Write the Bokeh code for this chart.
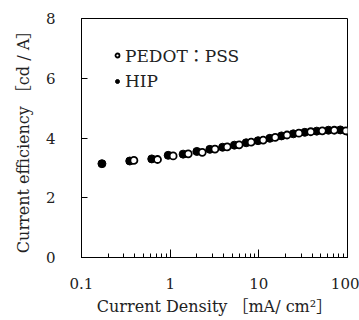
from bokeh.plotting import figure
from bokeh.models import Legend, LegendItem, LogTicker, FixedTicker
from bokeh.embed import file_html
from bokeh.resources import INLINE

# Data
hip_x = [0.17, 0.35, 0.62, 0.95, 1.4, 2.0, 2.8, 3.9, 5.3, 7.2, 9.8, 13.3, 18, 24.5, 33, 45, 61, 83, 100]
hip_y = [3.14, 3.23, 3.30, 3.42, 3.46, 3.55, 3.62, 3.69, 3.76, 3.84, 3.91, 3.99, 4.07, 4.14, 4.19, 4.23, 4.26, 4.27, 4.23]
pedot_x = [0.39, 0.72, 1.08, 1.6, 2.3, 3.2, 4.4, 6.0, 8.2, 11.2, 15.3, 20.8, 28.3, 38.5, 52, 71, 96]
pedot_y = [3.25, 3.28, 3.40, 3.47, 3.52, 3.63, 3.70, 3.77, 3.86, 3.93, 4.02, 4.10, 4.16, 4.21, 4.24, 4.26, 4.24]
y_ticks = [0, 2, 4, 6, 8]
x_label = "Current Density ［mA/ cm²］"
y_label = "Current efficiency ［cd / A］"
series_names = ["PEDOT：PSS", "HIP"]

FONT = "DejaVu Serif, Noto Sans CJK JP"

p = figure(width=359, height=320, x_axis_type="log", x_range=(0.1, 100), y_range=(0, 8),
           output_backend="svg", toolbar_location=None,
           min_border_left=81, min_border_right=12, min_border_top=18, min_border_bottom=63)

p.grid.visible = False
p.background_fill_color = "white"
p.border_fill_color = "white"
p.outline_line_color = "black"
p.outline_line_width = 1

hip = p.scatter(hip_x, hip_y, size=8, marker="circle", fill_color="black", line_color="black")
ped = p.scatter(pedot_x, pedot_y, size=7, marker="circle", fill_color="white",
                line_color="black", line_width=1.8)

# axes
xa = p.xaxis[0]
xa.ticker = LogTicker(desired_num_ticks=4, num_minor_ticks=10)
xa.major_label_overrides = {0.1: "0.1", 1: "1", 10: "10", 100: "100"}
ya = p.yaxis[0]
ya.ticker = FixedTicker(ticks=y_ticks)

for ax in (xa, ya):
    ax.axis_line_color = "black"
    ax.major_tick_line_color = "black"
    ax.minor_tick_line_color = "black"
    ax.major_tick_out = 0
    ax.minor_tick_out = 0
    ax.major_label_text_font = FONT
    ax.major_label_text_font_size = "15px"
    ax.major_label_text_color = "#222222"
    ax.axis_label_text_font = FONT
    ax.axis_label_text_font_size = "16px"
    ax.axis_label_text_font_style = "normal"
    ax.axis_label_text_color = "#222222"

xa.major_tick_in = 8
xa.minor_tick_in = 4
xa.major_label_standoff = 20
xa.axis_label = x_label
xa.axis_label_standoff = 5

ya.major_tick_in = 6
ya.minor_tick_line_color = None
ya.major_label_standoff = 26
ya.axis_label = y_label
ya.axis_label_standoff = 10

legend = Legend(items=[LegendItem(label=series_names[0], renderers=[ped]),
                       LegendItem(label=series_names[1], renderers=[hip])],
                location=(31, 166), padding=0, margin=0, spacing=4,
                label_height=20, glyph_width=10, glyph_height=10, label_standoff=3,
                border_line_color=None, background_fill_alpha=0,
                label_text_font=FONT, label_text_font_size="17px", label_text_color="#222222")
p.add_layout(legend)

open("out.html", "w").write(file_html(p, INLINE))
